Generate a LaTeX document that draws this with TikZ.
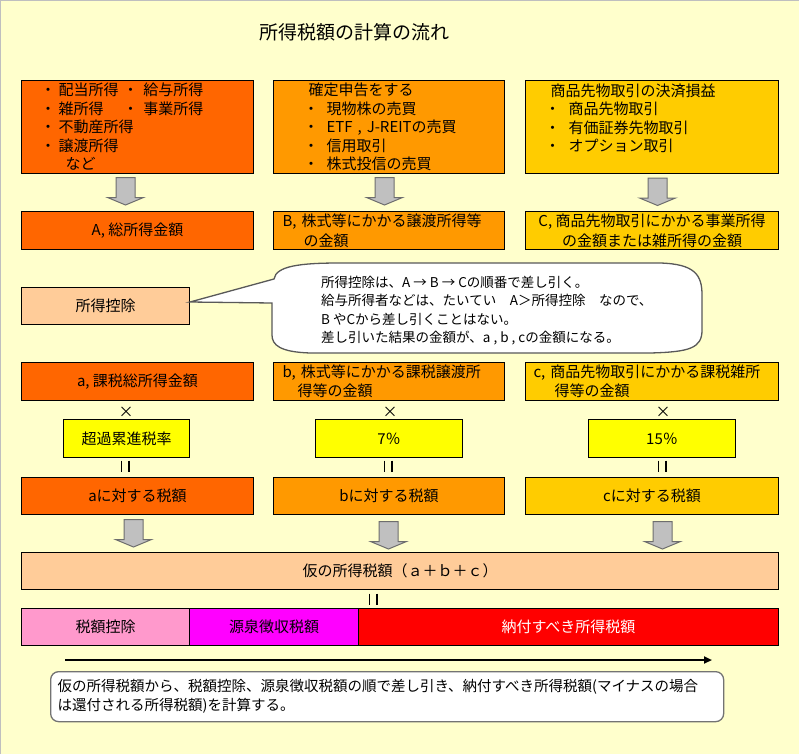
\documentclass[tikz,border=0pt]{standalone}
\usepackage{fontspec}
\setmainfont{Noto Sans CJK JP}
\usetikzlibrary{arrows.meta}
\definecolor{bg}{HTML}{FFFFCC}
\definecolor{cA}{HTML}{FF6600}
\definecolor{cB}{HTML}{FF9900}
\definecolor{cC}{HTML}{FFCC00}
\definecolor{peach}{HTML}{FFCC99}
\definecolor{rate}{HTML}{FFFF00}
\definecolor{pinkc}{HTML}{FF99CC}
\definecolor{magc}{HTML}{FF00FF}
\definecolor{redc}{HTML}{FF0000}
\definecolor{arrfill}{HTML}{C0C0C0}
\definecolor{arredge}{HTML}{6E6E6E}
\definecolor{edgegray}{HTML}{BFBFBF}
\begin{document}
\begin{tikzpicture}[x=1pt,y=-1pt,
  box/.style={draw=black, line width=1pt, anchor=north west, inner sep=0pt,
    font=\fontsize{15}{19}\selectfont},
  topbox/.style={box, minimum height=93, align=left, font=\fontsize{15}{18.5}\selectfont},
  rowbox/.style={box, minimum height=38},
  sym/.style={inner sep=0pt, font=\fontsize{15}{15}\selectfont},
  calloutshape/.style={draw=black!65, line width=1.3pt, fill=white},
  blockarrow/.pic={\draw[fill=arrfill, draw=arredge, line width=1pt]
    (-9.5,0) -- (9.5,0) -- (9.5,20) -- (18,20) -- (0,27.5) -- (-18,20) -- (-9.5,20) -- cycle;},
  eqbars/.pic={\draw[line width=1.6pt] (-3.7,-5.5) -- (-3.7,5.5) (3.7,-5.5) -- (3.7,5.5);}
]
\fill[bg] (0,0) rectangle (799,754);
\useasboundingbox (0,0) rectangle (799,754);
\draw[edgegray, line width=2pt] (0,754) -- (0,0) -- (799,0);

\node[inner sep=0pt, font=\fontsize{19}{19}\selectfont] (title) at (354.5,32) {所得税額の計算の流れ};

% top boxes
\node[topbox, fill=cA, minimum width=232, text width=194] (t1) at (21,80) {%
\makebox[82.5pt][l]{\makebox[18pt][l]{・}配当所得}\makebox[20.5pt][l]{・}給与所得\\
\makebox[82.5pt][l]{\makebox[18pt][l]{・}雑所得}\makebox[20.5pt][l]{・}事業所得\\
\makebox[18pt][l]{・}不動産所得\\
\makebox[18pt][l]{・}譲渡所得\\
\hspace*{25pt}など};
\node[topbox, fill=cB, minimum width=231, text width=171] (t2) at (273,80) {%
\hspace*{5pt}確定申告をする\\
\makebox[23pt][l]{・}現物株の売買\\
\makebox[23pt][l]{・}ETF , J-REITの売買\\
\makebox[23pt][l]{・}信用取引\\
\makebox[23pt][l]{・}株式投信の売買};
\node[topbox, fill=cC, minimum width=253, text width=214] (t3) at (525,80) {%
\hspace*{5.5pt}商品先物取引の決済損益\\
\makebox[23.5pt][l]{・}商品先物取引\\
\makebox[23.5pt][l]{・}有価証券先物取引\\
\makebox[23.5pt][l]{・}オプション取引\\
\mbox{}};

\pic at ([xshift=-12pt, yshift=-3.5pt]t1.south) {blockarrow};
\pic at ([xshift=-4.5pt, yshift=-3.5pt]t2.south) {blockarrow};
\pic at ([xshift=5.5pt, yshift=-4pt]t3.south) {blockarrow};

% row 2
\node[rowbox, fill=cA, minimum width=232] (A) at (21,211) {A, 総所得金額};
\node[rowbox, fill=cB, minimum width=231, text width=213, align=left,
  font=\fontsize{15}{20}\selectfont] (B) at (273,211) {B, 株式等にかかる譲渡所得等\\\hspace*{21pt}の金額};
\node[rowbox, fill=cC, minimum width=253, align=center,
  font=\fontsize{15}{20}\selectfont] (C) at (525,211) {C, 商品先物取引にかかる事業所得\\の金額または雑所得の金額};

% deduction and callout
\node[box, fill=peach, minimum width=168, minimum height=37] (ded) at (21,287) {所得控除};
\draw[calloutshape] ([yshift=4pt]ded.east) -- (274,279)
  .. controls (276,266) and (300,263) .. (340,263) -- (660,263)
  .. controls (695,264) and (702,275) .. (702,295) -- (702,330)
  .. controls (702,348) and (690,352) .. (650,353) -- (310,353)
  .. controls (280,352) and (272,345) .. (272,335) -- (272,303) -- cycle;
\node[inner sep=0pt, anchor=west, align=left, font=\fontsize{13.5}{18.3}\selectfont] (note) at (321,310.5) {%
所得控除は、A → B → Cの順番で差し引く。\\
給与所得者などは、たいてい　A＞所得控除　なので、\\
B やCから差し引くことはない。\\
差し引いた結果の金額が、a , b , cの金額になる。};

% a, b, c row
\node[rowbox, fill=cA, minimum width=232] (a) at (21,362) {a, 課税総所得金額};
\node[rowbox, fill=cB, minimum width=231, text width=213, align=left] (b) at (273,362) {b, 株式等にかかる課税譲渡所\\\hspace*{15pt}得等の金額};
\node[rowbox, fill=cC, minimum width=253, text width=237, align=left] (c) at (525,362) {c, 商品先物取引にかかる課税雑所\\\hspace*{21pt}得等の金額};

\node[sym] (x1) at (126,412) {×};
\node[sym] (x2) at (390,412) {×};
\node[sym] (x3) at (663,412) {×};

\node[rowbox, fill=rate, minimum width=126] (r1) at (63,419) {超過累進税率};
\node[rowbox, fill=rate, minimum width=147] (r2) at (315,419) {7％};
\node[rowbox, fill=rate, minimum width=147] (r3) at (588,419) {15％};

\pic at (125,466) {eqbars};
\pic at (388,466) {eqbars};
\pic at (662,466) {eqbars};

\node[box, fill=cA, minimum width=232, minimum height=37] (ta) at (21,477) {aに対する税額};
\node[box, fill=cB, minimum width=231, minimum height=37] (tb) at (273,477) {bに対する税額};
\node[box, fill=cC, minimum width=253, minimum height=37] (tcc) at (525,477) {cに対する税額};

\pic at ([xshift=-4pt, yshift=-4.5pt]ta.south) {blockarrow};
\pic at ([xshift=-0.5pt, yshift=-6.5pt]tb.south) {blockarrow};
\pic at ([xshift=10.5pt, yshift=-6.5pt]tcc.south) {blockarrow};

\node[box, fill=peach, minimum width=757, minimum height=37] (prov) at (21,552) {仮の所得税額（ａ＋ｂ＋ｃ）};
\pic at (373,599) {eqbars};

\node[box, fill=pinkc, minimum width=168, minimum height=37] (tcr) at (21,608) {税額控除};
\node[box, fill=magc, minimum width=169, minimum height=37] (wh) at (189,608) {源泉徴収税額};
\node[box, fill=redc, minimum width=420, minimum height=37, text=white] (pay) at (358,608) {納付すべき所得税額};

\coordinate (ls) at (65,660);
\coordinate (le) at (712,660);
\draw[line width=2pt, -{Triangle[length=8pt,width=7pt]}] (ls) -- (le);

\node[draw=black!55, line width=1.3pt, fill=white, rounded corners=8pt, anchor=north west,
  minimum width=673, minimum height=50, inner sep=0pt, text width=659, align=left,
  font=\fontsize{14.5}{19}\selectfont] (sum) at (50,671) {%
仮の所得税額から、税額控除、源泉徴収税額の順で差し引き、納付すべき所得税額(マイナスの場合\\
は還付される所得税額)を計算する。};
\end{tikzpicture}
\end{document}
